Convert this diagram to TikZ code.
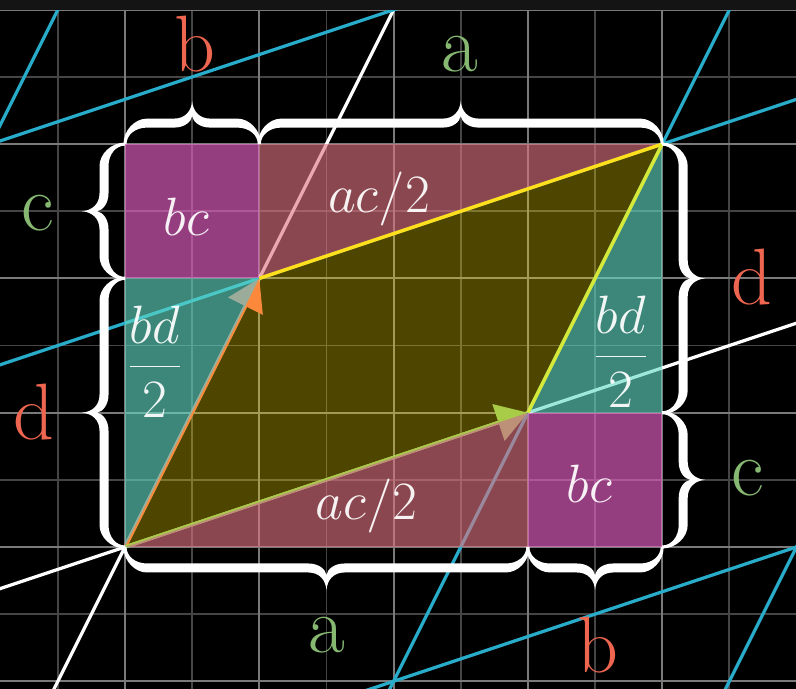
\RequirePackage{fix-cm}
\documentclass[tikz,border=0pt]{standalone}
\usetikzlibrary{arrows.meta}
\definecolor{gridmajor}{HTML}{7A7A7A}
\definecolor{gridminor}{HTML}{454545}
\definecolor{tblue}{HTML}{29ABCA}
\definecolor{vred}{HTML}{FC6255}
\definecolor{vgreen}{HTML}{83C167}
\definecolor{yedgecol}{HTML}{FFE01A}
\definecolor{yedgecolb}{HTML}{D5E83A}
\definecolor{magbase}{HTML}{EF64CE}
\definecolor{redbase}{HTML}{E07481}
\definecolor{tealbase}{HTML}{61DAC5}
\definecolor{yelbase}{HTML}{FFE600}
\definecolor{labred}{HTML}{EE6650}
\definecolor{labgreen}{HTML}{86B872}
\definecolor{topband}{HTML}{141414}
\tikzset{
  pics/cbrace/.style={code={
    \begin{scope}[x=1pt,y=1pt]
    \pgfmathsetmacro\Lh{#1/2}
    \pgfmathsetmacro\Lf{#1}
    \fill[white] (-1.5,0) .. controls (-1.5,14) and (10,25.5) .. (22,25.5)
      -- ({\Lh-18},25.5) .. controls ({\Lh-7},25.5) and ({\Lh-0.8},33) .. (\Lh,43)
      .. controls ({\Lh+0.8},33) and ({\Lh+7},25.5) .. ({\Lh+18},25.5)
      -- ({\Lf-22},25.5) .. controls ({\Lf-10},25.5) and ({\Lf+1.5},14) .. ({\Lf+1.5},0)
      -- ({\Lf-1.5},0) .. controls ({\Lf-1.5},9) and ({\Lf-10},16.5) .. ({\Lf-22},16.5)
      -- ({\Lh+18},16.5) .. controls ({\Lh+8},16.5) and ({\Lh+1},22) .. (\Lh,28)
      .. controls ({\Lh-1},22) and ({\Lh-8},16.5) .. ({\Lh-18},16.5)
      -- (22,16.5) .. controls (10,16.5) and (1.5,9) .. (1.5,0) -- cycle;
    \end{scope}
  }}
}
\begin{document}
\begin{tikzpicture}[x=134.3pt,y=134.3pt,
  minorgrid/.style={draw=gridminor, line width=1.8pt},
  majorgrid/.style={draw=gridmajor, line width=1.8pt},
  wline/.style={draw=white, line width=3.2pt},
  bline/.style={draw=tblue, line width=3.2pt},
  vecarrow/.style={line width=3.6pt, -{Triangle[length=31pt,width=38pt]}},
  magfill/.style={fill=magbase, fill opacity=0.62},
  redfill/.style={fill=redbase, fill opacity=0.62},
  tealfill/.style={fill=tealbase, fill opacity=0.62},
  yelfill/.style={fill=yelbase, fill opacity=0.3},
  yedge/.style={line width=3.4pt},
  outerlab/.style={font=\fontsize{80}{80}\selectfont, inner sep=0pt, anchor=base},
  innerlab/.style={font=\fontsize{54}{54}\selectfont, inner sep=0pt, anchor=base, text=white, text opacity=0.93}
]
\useasboundingbox (-0.9308,-1.0573) rectangle (4.9963,4.0730);
\fill[black] (-0.9308,-1.0573) rectangle (4.9963,4.0730);
\coordinate (O) at (0,0);
\coordinate (A) at (3,1);
\coordinate (B) at (1,2);
\coordinate (C) at (4,3);
\begin{scope}
\clip (-0.9308,-1.0573) rectangle (4.9963,4.0730);
% grid
\foreach \v in {-0.5,0.5,1.5,2.5,3.5,4.5} {
  \draw[minorgrid] (\v,-1.2) -- (\v,4.2);
  \draw[minorgrid] (-1,\v) -- (5.1,\v);
}
\foreach \v in {-1,0,1,2,3,4,5} {
  \draw[majorgrid] (\v,-1.2) -- (\v,4.2);
  \draw[majorgrid] (-1,\v) -- (5.1,\v);
}
% transformed axes and grid lines
\draw[wline] (-1,-2) -- (3,6);
\draw[wline] (-3,-1) -- (6,2);
\draw[bline] (-3,-1) -- (0,5);
\draw[bline] (1,-3) -- (5,5);
\draw[bline] (2,-6) -- (6,2);
\draw[bline] (-1,-2) -- (8,1);
\draw[bline] (-2,1) -- (7,4);
\draw[bline] (-4,2) -- (5,5);
% vectors
\draw[vecarrow, draw=vred, fill=vred] (O) -- (B);
\draw[vecarrow, draw=vgreen, fill=vgreen] (O) -- (A);
% area pieces
\fill[magfill] (0,2) rectangle (1,3);
\fill[magfill] (3,0) rectangle (4,1);
\fill[redfill] (B) -- (C) -- (1,3) -- cycle;
\fill[redfill] (O) -- (A) -- (3,0) -- cycle;
\fill[tealfill] (O) -- (B) -- (0,2) -- cycle;
\fill[tealfill] (A) -- (C) -- (4,1) -- cycle;
\fill[yelfill] (O) -- (A) -- (C) -- (B) -- cycle;
\draw[yedge, draw=yedgecol] (B) -- (C);
\draw[yedge, draw=yedgecolb] (A) -- (C);
\end{scope}
% braces
\pic (brTb) at (0,3) {cbrace=134.3};
\pic (brTa) at (1,3) {cbrace=402.9};
\pic[rotate=-90] (brRd) at (4,3) {cbrace=268.6};
\pic[rotate=-90] (brRc) at (4,1) {cbrace=134.3};
\pic[rotate=180] (brBb) at (4,0) {cbrace=134.3};
\pic[rotate=180] (brBa) at (3,0) {cbrace=402.9};
\pic[rotate=90] (brLd) at (0,0) {cbrace=268.6};
\pic[rotate=90] (brLc) at (0,2) {cbrace=134.3};
% outer labels
\node[outerlab, text=labred] (lTb) at (0.521,3.537) {b};
\node[outerlab, text=labgreen] (lTa) at (2.494,3.537) {a};
\node[outerlab, text=labgreen] (lLc) at (-0.648,2.360) {c};
\node[outerlab, text=labred] (lLd) at (-0.678,0.797) {d};
\node[outerlab, text=labred] (lRd) at (4.665,1.802) {d};
\node[outerlab, text=labgreen] (lRc) at (4.635,0.387) {c};
\node[outerlab, text=labgreen] (lBa) at (1.5,-0.789) {a};
\node[outerlab, text=labred] (lBb) at (3.518,-0.931) {b};
% inner labels
\node[innerlab] (iBC1) at (0.458,2.323) {$bc$};
\node[innerlab] (iBC2) at (3.459,0.328) {$bc$};
\node[innerlab] (iAC1) at (1.891,2.494) {$ac/2$};
\node[innerlab] (iAC2) at (1.798,0.201) {$ac/2$};
\node[innerlab] (iBD1) at (0.223,1.243) {$\displaystyle\frac{bd}{2}$};
\node[innerlab] (iBD2) at (3.693,1.318) {$\displaystyle\frac{bd}{2}$};
% top band
\fill[topband] (-0.9308,3.9985) rectangle (4.9963,4.0730);
\end{tikzpicture}
\end{document}
